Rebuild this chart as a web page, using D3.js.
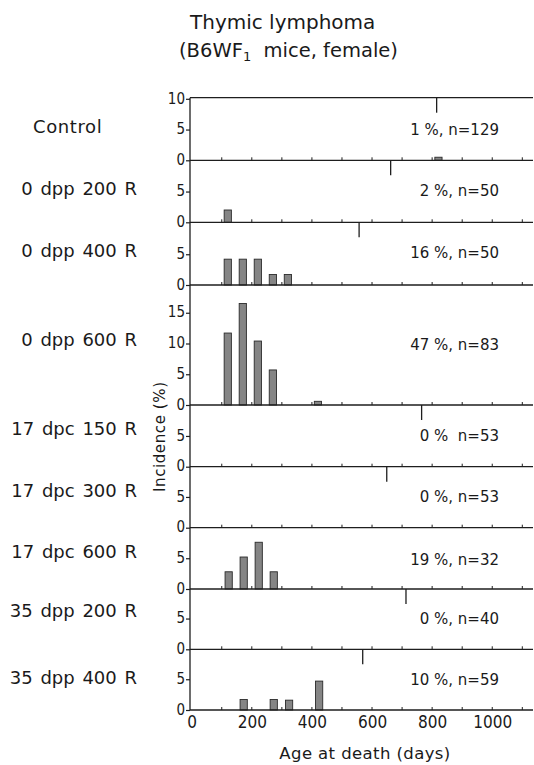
<!DOCTYPE html>
<html><head><meta charset="utf-8">
<script src="https://cdn.jsdelivr.net/npm/d3@7"></script>
<style>
body{margin:0;background:#fff}
text{fill:#1a1a1a}
</style>
</head><body>
<svg id="c" width="534" height="765"></svg>
<script>
// ---------- DATA ----------
const groups = ["Control","0 dpp 200 R","0 dpp 400 R","0 dpp 600 R","17 dpc 150 R","17 dpc 300 R","17 dpc 600 R","35 dpp 200 R","35 dpp 400 R"];
const annotations = ["1 %, n=129","2 %, n=50","16 %, n=50","47 %, n=83","0 %  n=53","0 %, n=53","19 %, n=32","0 %, n=40","10 %, n=59"];
const markerAge = [815, 662, 557, null, 765, 649, null, 713, 569];
const barsControl  = [[821, 0.5]];
const bars0dpp200  = [[120, 2.0]];
const bars0dpp400  = [[120, 4.2],[170, 4.2],[220, 4.2],[270, 1.7],[320, 1.7]];
const bars0dpp600  = [[120, 11.7],[170, 16.5],[220, 10.4],[270, 5.7],[420, 0.6]];
const bars17dpc150 = [];
const bars17dpc300 = [];
const bars17dpc600 = [[123, 2.8],[173, 5.2],[223, 7.6],[273, 2.8]];
const bars35dpp200 = [];
const bars35dpp400 = [[173, 1.7],[273, 1.7],[324, 1.6],[424, 4.7]];
const groupBars = [barsControl,bars0dpp200,bars0dpp400,bars0dpp600,bars17dpc150,bars17dpc300,bars17dpc600,bars35dpp200,bars35dpp400];
const yTicks = [[0,5,10],[0,5],[0,5],[0,5,10,15],[0,5],[0,5],[0,5],[0,5],[0,5]];
const xTickLabels = [0,200,400,600,800,1000];
const xMinorTicks = [100,200,300,400,500,600,700,800,900,1000,1100];
const binWidthDays = 24;

// ---------- LAYOUT ----------
const svg = d3.select("#c");
const axisX = 190, rightX = 533;
const topY = 97.7;
const panelBase = [160.3, 222.3, 285, 405, 466.7, 527.7, 589, 649.3, 710];
const pxPerUnit = 6.15;
const labelY = [126.7, 188.3, 250, 339.3, 428.3, 490, 551.7, 610, 677.3];
const annotOffset = [30.3, 31.3, 31.7, 60, 30.7, 30.4, 29, 30.3, 30];
const ink = "#1e1e1e";
const sans = "'DejaVu Sans', sans-serif";
const narrow = "'Liberation Sans Narrow', 'DejaVu Sans Condensed', 'Arial Narrow', sans-serif";

const x = d3.scaleLinear().domain([0, 1100]).range([191.7, 522.3]);

// Titles
svg.append("text").attr("x", 190).attr("y", 29).attr("font-family", sans).attr("font-size", 20)
  .text("Thymic lymphoma");
const sub = svg.append("text").attr("x", 179).attr("y", 57).attr("font-family", sans).attr("font-size", 19.5);
sub.append("tspan").text("(B6WF");
sub.append("tspan").attr("font-size", 13).attr("dy", 4).text("1");
sub.append("tspan").attr("dy", -4).attr("xml:space","preserve").text("  mice, female)");

// Left axis line
svg.append("line").attr("x1", axisX).attr("x2", axisX).attr("y1", topY).attr("y2", panelBase[8])
  .attr("stroke", ink).attr("stroke-width", 1.3);
// Top line
svg.append("line").attr("x1", axisX).attr("x2", rightX).attr("y1", topY).attr("y2", topY)
  .attr("stroke", ink).attr("stroke-width", 1.2);

groups.forEach((g, i) => {
  const base = panelBase[i];
  const top = i === 0 ? topY : panelBase[i-1];
  const y = d3.scaleLinear().domain([0, (base - top) / pxPerUnit]).range([base, top]);

  // bars
  svg.append("g").selectAll("rect").data(groupBars[i]).join("rect")
    .attr("x", d => x(d[0] - binWidthDays/2))
    .attr("width", d => x(d[0] + binWidthDays/2) - x(d[0] - binWidthDays/2))
    .attr("y", d => y(d[1]))
    .attr("height", d => y(0) - y(d[1]))
    .attr("fill", "#858585").attr("stroke", "#2a2a2a").attr("stroke-width", 0.9);

  // baseline
  svg.append("line").attr("x1", axisX).attr("x2", rightX).attr("y1", base).attr("y2", base)
    .attr("stroke", ink).attr("stroke-width", 1.3);
  // minor ticks upward
  svg.append("g").selectAll("line").data(xMinorTicks).join("line")
    .attr("x1", d => x(d)).attr("x2", d => x(d)).attr("y1", base).attr("y2", base - 3)
    .attr("stroke", ink).attr("stroke-width", 1);

  // y axis ticks
  const ya = svg.append("g").attr("transform", `translate(${axisX},0)`)
    .call(d3.axisLeft(y).tickValues(yTicks[i]).tickSize(4).tickSizeOuter(0).tickPadding(1).tickFormat(d3.format("d")));
  ya.select(".domain").remove();
  ya.selectAll(".tick line").attr("stroke", ink).attr("stroke-width", 1.2);
  ya.selectAll(".tick text").attr("font-family", narrow).attr("font-size", 15).attr("fill", ink)
    .attr("dy", "0.28em");

  // marker (hanging from top)
  if (markerAge[i] != null) {
    svg.append("line").attr("x1", x(markerAge[i])).attr("x2", x(markerAge[i]))
      .attr("y1", top).attr("y2", top + 15).attr("stroke", ink).attr("stroke-width", 1.3);
  }

  // annotation
  svg.append("text").attr("x", 499).attr("y", base - annotOffset[i])
    .attr("text-anchor", "end").attr("dominant-baseline", "central")
    .attr("font-family", sans).attr("font-size", 15).style("white-space", "pre")
    .text(annotations[i]);

  // group label
  const lab = svg.append("text").attr("y", labelY[i]).attr("dominant-baseline", "central")
    .attr("font-family", sans).attr("font-size", 18).attr("word-spacing", 2)
    .text(g);
  if (i === 0) lab.attr("x", 33).attr("letter-spacing", 0.6);
  else lab.attr("x", 137).attr("text-anchor", "end");
});

// bottom axis labels
const xa = svg.append("g").attr("transform", `translate(0,${panelBase[8]})`)
  .call(d3.axisBottom(x).tickValues(xTickLabels).tickSize(0).tickPadding(6).tickFormat(d3.format("d")));
xa.select(".domain").remove();
xa.selectAll(".tick text").attr("font-family", narrow).attr("font-size", 17).attr("fill", ink);

// axis titles
svg.append("text").attr("x", 365).attr("y", 753.5).attr("text-anchor", "middle")
  .attr("dominant-baseline", "central").attr("font-family", sans).attr("font-size", 16.5)
  .attr("letter-spacing", 0.4).text("Age at death (days)");
svg.append("text").attr("transform", "translate(160,436.7) rotate(-90)")
  .attr("text-anchor", "middle").attr("dominant-baseline", "central")
  .attr("font-family", sans).attr("font-size", 15).attr("letter-spacing", 0.6)
  .text("Incidence (%)");
</script>
</body></html>
